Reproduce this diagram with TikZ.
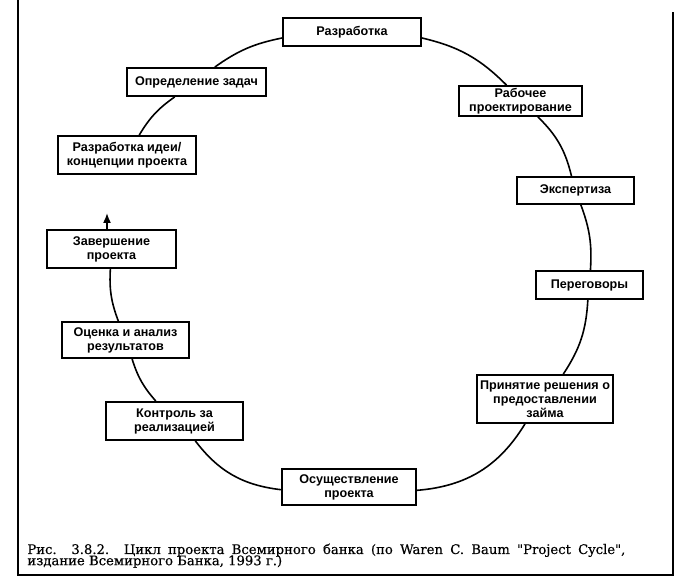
\documentclass[tikz,border=0pt]{standalone}
\usepackage{fontspec}
\newfontfamily\boxfont{Liberation Sans}
\newfontfamily\capfont[FakeBold=0.4]{DejaVu Serif}
\usetikzlibrary{calc,arrows.meta}

\tikzset{
  stage/.style={draw, fill=white, line width=0.9pt, inner sep=1pt, align=center,
    font=\boxfont\fontsize{6.3}{7}\selectfont\bfseries},
  cycle/.style={line width=0.8pt},
  captext/.style={anchor=base west, inner sep=0pt, font=\capfont\fontsize{6.6}{6}\selectfont}
}

\begin{document}
\begin{tikzpicture}[x=0.5pt,y=0.5pt]
\useasboundingbox (0,0) rectangle (685,588);
\draw[line width=1pt] (18,588) -- (18,13) -- (673,13) -- (673,576);
\node[stage, minimum width=69pt, minimum height=14pt] (dev) at (352,556) {Разработка};
\node[stage, minimum width=61.5pt, minimum height=14pt] (design) at (520.5,487) {Рабочее\\проектирование};
\node[stage, minimum width=58.5pt, minimum height=13.5pt] (review) at (575.5,397.5) {Экспертиза};
\node[stage, minimum width=53.5pt, minimum height=14pt] (talks) at (589.5,303) {Переговоры};
\node[stage, minimum width=68pt, minimum height=24pt] (loan) at (545,189) {Принятие решения о\\предоставлении\\займа};
\node[stage, minimum width=67pt, minimum height=18pt] (impl) at (349,101) {Осуществление\\проекта};
\node[stage, minimum width=68.5pt, minimum height=19pt] (ctrl) at (174.5,167) {Контроль за\\реализацией};
\node[stage, minimum width=63.5pt, minimum height=18pt] (eval) at (125.5,248) {Оценка и анализ\\результатов};
\node[stage, minimum width=64.5pt, minimum height=19pt] (done) at (111.5,339) {Завершение\\проекта};
\node[stage, minimum width=69pt, minimum height=19pt] (idea) at (127,433) {Разработка идеи/\\концепции проекта};
\node[stage, minimum width=69.5pt, minimum height=14pt] (tasks) at (196.5,506) {Определение задач};
\draw[cycle] ([yshift=-3pt]dev.east) to[bend left=16] (design);
\draw[cycle] (design) to[bend left=16] (review);
\draw[cycle] (review) to[bend left=12] (talks);
\draw[cycle] (talks) to[bend left=15] (loan);
\draw[cycle] (loan) to[bend left=27] (impl);
\draw[cycle] (impl) to[bend left=23] (ctrl);
\draw[cycle] (ctrl) to[bend left=12] (eval);
\draw[cycle] (eval) to[bend left=12] (done);
\draw[cycle] (idea) to[bend left=12] (tasks);
\draw[cycle] (tasks) to[bend left=12] ([yshift=-3pt]dev.west);
\coordinate (tip) at (107,375);
\draw[cycle, -{Latex[length=5pt,width=4pt]}] (done.north -| tip) -- (tip);
\node[captext] (capone) at (27,34) {\makebox[299pt][s]{Рис. 3.8.2. Цикл проекта Всемирного банка (по Waren C. Baum "Project Cycle",}};
\node[captext] (captwo) at (27,22.8) {издание Всемирного Банка, 1993 г.)};
\end{tikzpicture}
\end{document}
